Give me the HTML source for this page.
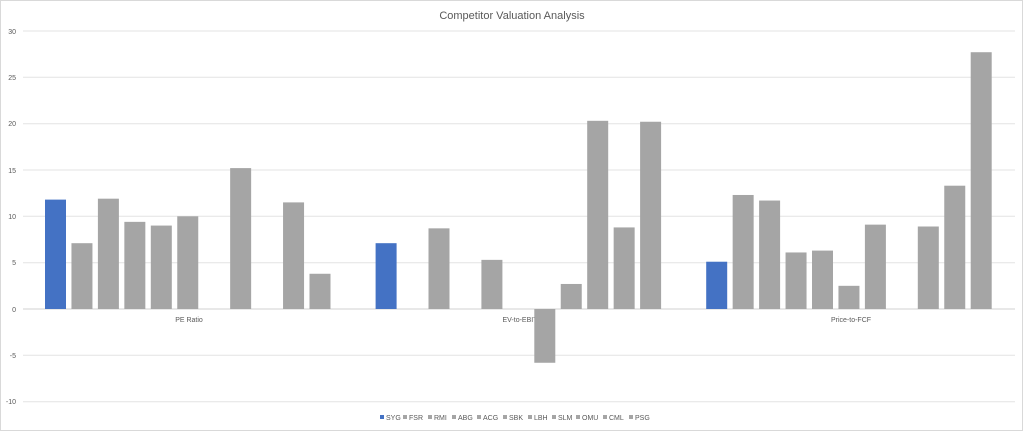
<!DOCTYPE html><html><head><style>body{margin:0;background:#fff}</style></head><body>
<svg width="1023" height="431" xmlns="http://www.w3.org/2000/svg" font-family="Liberation Sans, sans-serif">
<rect x="0.5" y="0.5" width="1022" height="430" fill="#fff" stroke="#d9d9d9"/>
<text x="512" y="19" font-size="11" fill="#595959" text-anchor="middle">Competitor Valuation Analysis</text>
<g stroke="#e3e3e3" stroke-width="1">
<line x1="23" x2="1015" y1="31" y2="31"/><line x1="23" x2="1015" y1="77.3" y2="77.3"/><line x1="23" x2="1015" y1="123.7" y2="123.7"/><line x1="23" x2="1015" y1="170" y2="170"/><line x1="23" x2="1015" y1="216.3" y2="216.3"/><line x1="23" x2="1015" y1="262.7" y2="262.7"/><line x1="23" x2="1015" y1="355.3" y2="355.3"/><line x1="23" x2="1015" y1="401.7" y2="401.7"/>
</g>
<line x1="23" x2="1015" y1="309" y2="309" stroke="#d0d0d0"/>
<g font-size="7" fill="#595959" text-anchor="end">
<text x="16" y="34">30</text><text x="16" y="80">25</text><text x="16" y="126">20</text><text x="16" y="173">15</text><text x="16" y="219">10</text><text x="16" y="265">5</text><text x="16" y="312">0</text><text x="16" y="358">-5</text><text x="16" y="404">-10</text>
</g>
<g font-size="7" fill="#595959" text-anchor="middle">
<text x="189" y="322">PE Ratio</text><text x="520" y="322">EV-to-EBIT</text><text x="851" y="322">Price-to-FCF</text>
</g>
<g id="bars"></g>
<g font-size="7" fill="#595959" id="leg"></g>
</svg>
<script>
const data=[[11.8,7.1,11.9,9.4,9.0,10.0,null,15.2,null,11.5,3.8],[7.1,null,8.7,null,5.3,null,-5.8,2.7,20.3,8.8,20.2],[5.1,12.3,11.7,6.1,6.3,2.5,9.1,null,8.9,13.3,27.7]];
const s=9.27,z=309;let h='';
data.forEach((g,gi)=>g.forEach((v,i)=>{if(v==null)return;const x=45+gi*330.6+i*26.45;const y=v>=0?z-v*s:z;h+=`<rect x="${x}" y="${y}" width="21" height="${Math.abs(v)*s}" fill="${i==0?'#4472c4':'#a5a5a5'}"/>`;}));
document.getElementById('bars').innerHTML=h;
const n=['SYG','FSR','RMI','ABG','ACG','SBK','LBH','SLM','OMU','CML','PSG'];const xs=[380,403,428,452,477,503,528,552,576,603,629];let l='';
n.forEach((t,i)=>{l+=`<rect x="${xs[i]}" y="415" width="4" height="4" fill="${i==0?'#4472c4':'#a5a5a5'}"/><text x="${xs[i]+6}" y="420">${t}</text>`});
document.getElementById('leg').innerHTML=l;
</script>
</body></html>
